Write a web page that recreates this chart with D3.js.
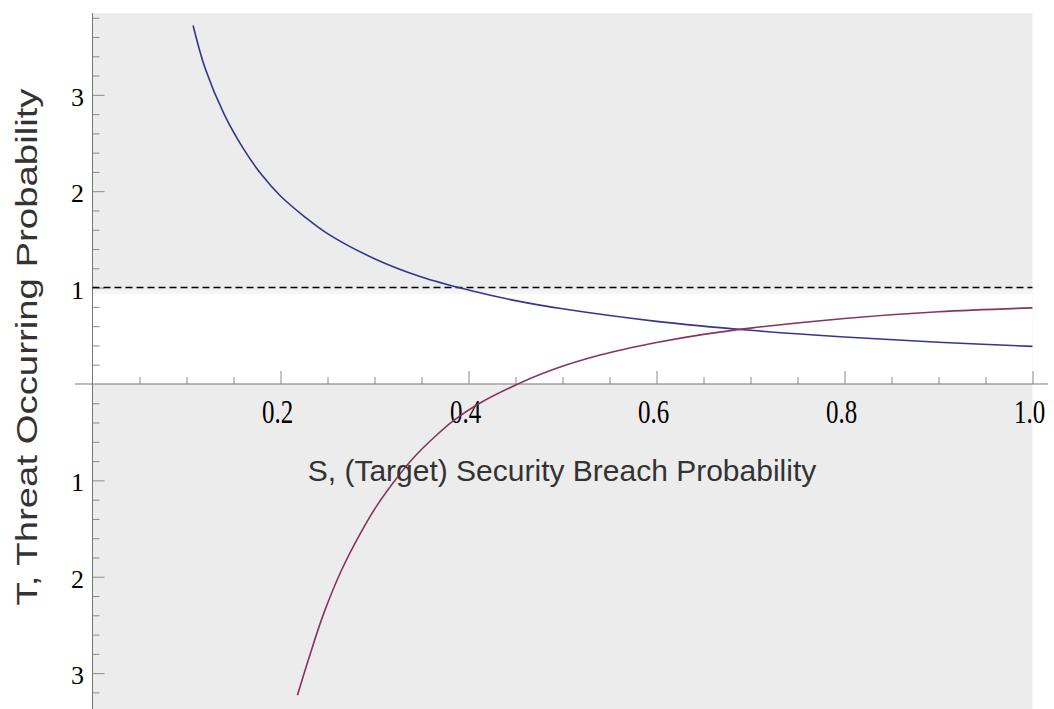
<!DOCTYPE html>
<html lang="en">
  <head>
    <meta charset="UTF-8" />
    <title>Threat vs breach probability</title>
    <script src="https://cdn.jsdelivr.net/npm/d3@7"></script>
    <style>
      body { margin: 0; background: #fff; }
      text { font-family: 'Liberation Serif', serif; }
      .title { font-family: 'Liberation Sans', Arial, sans-serif; fill: #333; }
    </style>
  </head>
  <body>
    <div class="chart"></div>
    <script>
      // values
      var blueS = [0.107, 0.12, 0.14, 0.16, 0.18, 0.2, 0.225, 0.25, 0.3, 0.35, 0.4, 0.45, 0.5, 0.6, 0.7, 0.8, 0.9, 1.0]
      var blueT = [3.72, 3.27, 2.8, 2.45, 2.17, 1.95, 1.74, 1.56, 1.3, 1.11, 0.975, 0.865, 0.78, 0.65, 0.557, 0.487, 0.433, 0.39]

      var redS = [0.218, 0.23, 0.246, 0.265, 0.285, 0.302, 0.325, 0.343, 0.365, 0.384, 0.41, 0.448, 0.49, 0.54, 0.6, 0.65, 0.7, 0.8, 0.9, 1.0]
      var redT = [-3.23, -2.85, -2.38, -1.93, -1.55, -1.27, -0.96, -0.75, -0.54, -0.38, -0.21, -0.02, 0.15, 0.3, 0.43, 0.515, 0.58, 0.68, 0.75, 0.79]

      var xTicks = [0.2, 0.4, 0.6, 0.8, 1.0]
      var yTicks = [-3, -2, -1, 1, 2, 3]
      var threshold = 1

      var W = 1054, H = 709

      var svg = d3.select('.chart').append('svg').attr('width', W).attr('height', H)

      var x = d3.scaleLinear().domain([0, 1]).range([92.5, 1032.5])
      var y = d3.scaleLinear().domain([-3.372, 3.849]).range([709, 13])

      // background panel, white band between 0 and 1
      svg.append('rect')
        .attr('x', x(0)).attr('y', 13)
        .attr('width', x(1) - x(0)).attr('height', H - 13)
        .attr('fill', '#ececec')
      svg.append('rect')
        .attr('x', x(0)).attr('y', y(threshold) + 2)
        .attr('width', x(1) - x(0)).attr('height', 4)
        .attr('fill', '#f5f5f5')
      svg.append('rect')
        .attr('x', x(0)).attr('y', y(threshold) + 6)
        .attr('width', x(1) - x(0)).attr('height', y(0) - y(threshold) - 6)
        .attr('fill', '#fff')

      // y axis: major + minor ticks drawn inward
      var yAxis = d3.axisRight(y).tickValues(yTicks).tickSize(12).tickFormat('')
      var yMinor = d3.axisRight(y)
        .tickValues(d3.range(-3.2, 3.85, 0.2).filter((v) => Math.abs(v - Math.round(v)) > 0.01))
        .tickSize(7).tickFormat('')
      svg.append('g').attr('transform', `translate(${x(0)},0)`).call(yMinor)
      svg.append('g').attr('transform', `translate(${x(0)},0)`).call(yAxis)

      svg.append('g')
        .selectAll('text')
        .data(yTicks)
        .enter()
        .append('text')
        .attr('x', 84)
        .attr('y', (d) => y(d) + 11)
        .attr('text-anchor', 'end')
        .style('font-size', '26px')
        .text((d) => Math.abs(d))

      // x axis
      var xAxis = d3.axisTop(x).tickValues(xTicks).tickSize(13).tickFormat('')
      var xMinor = d3.axisTop(x)
        .tickValues(d3.range(0.05, 1.01, 0.05).filter((v) => Math.abs(v * 5 - Math.round(v * 5)) > 0.01))
        .tickSize(7).tickFormat('')
      svg.append('g').attr('transform', `translate(0,${y(0)})`).call(xMinor)
      svg.append('g').attr('transform', `translate(0,${y(0)})`).call(xAxis)

      svg.selectAll('.domain').remove()
      svg.selectAll('.tick line').attr('stroke', '#8a8a8a')

      svg.append('line')
        .attr('x1', x(0)).attr('x2', x(0)).attr('y1', 13).attr('y2', H)
        .attr('stroke', '#777')
      svg.append('line')
        .attr('x1', 75).attr('x2', 1048).attr('y1', y(0)).attr('y2', y(0))
        .attr('stroke', '#777')

      svg.append('g')
        .selectAll('text')
        .data(xTicks)
        .enter()
        .append('text')
        .attr('transform', (d) => `translate(${x(d) - 3},${y(0) + 39}) scale(1,1.35)`)
        .attr('text-anchor', 'middle')
        .style('font-size', '25px')
        .text((d) => d.toFixed(1))

      // dashed threshold line
      svg.append('line')
        .attr('x1', x(0)).attr('x2', x(1)).attr('y1', y(threshold)).attr('y2', y(threshold))
        .attr('stroke', '#000').attr('stroke-width', 1.5).attr('stroke-dasharray', '7,4')

      // curves
      var line = d3.line().x((d) => x(d[0])).y((d) => y(d[1])).curve(d3.curveCatmullRom.alpha(0.5))

      svg.append('path')
        .datum(blueS.map((s, i) => [s, blueT[i]]))
        .attr('d', line)
        .attr('fill', 'none').attr('stroke', '#33368f').attr('stroke-width', 1.6)

      svg.append('path')
        .datum(redS.map((s, i) => [s, redT[i]]))
        .attr('d', line)
        .attr('fill', 'none').attr('stroke', '#86345f').attr('stroke-width', 1.6)

      // axis titles
      svg.append('text')
        .attr('class', 'title')
        .attr('x', 562).attr('y', 481)
        .attr('text-anchor', 'middle')
        .style('font-size', '30px')
        .text('S, (Target) Security Breach Probability')

      svg.append('text')
        .attr('class', 'title')
        .attr('transform', 'translate(37,347) rotate(-90)')
        .attr('text-anchor', 'middle')
        .attr('textLength', 517)
        .attr('lengthAdjust', 'spacingAndGlyphs')
        .style('font-size', '30px')
        .text('T, Threat Occurring Probability')
    </script>
  </body>
</html>
